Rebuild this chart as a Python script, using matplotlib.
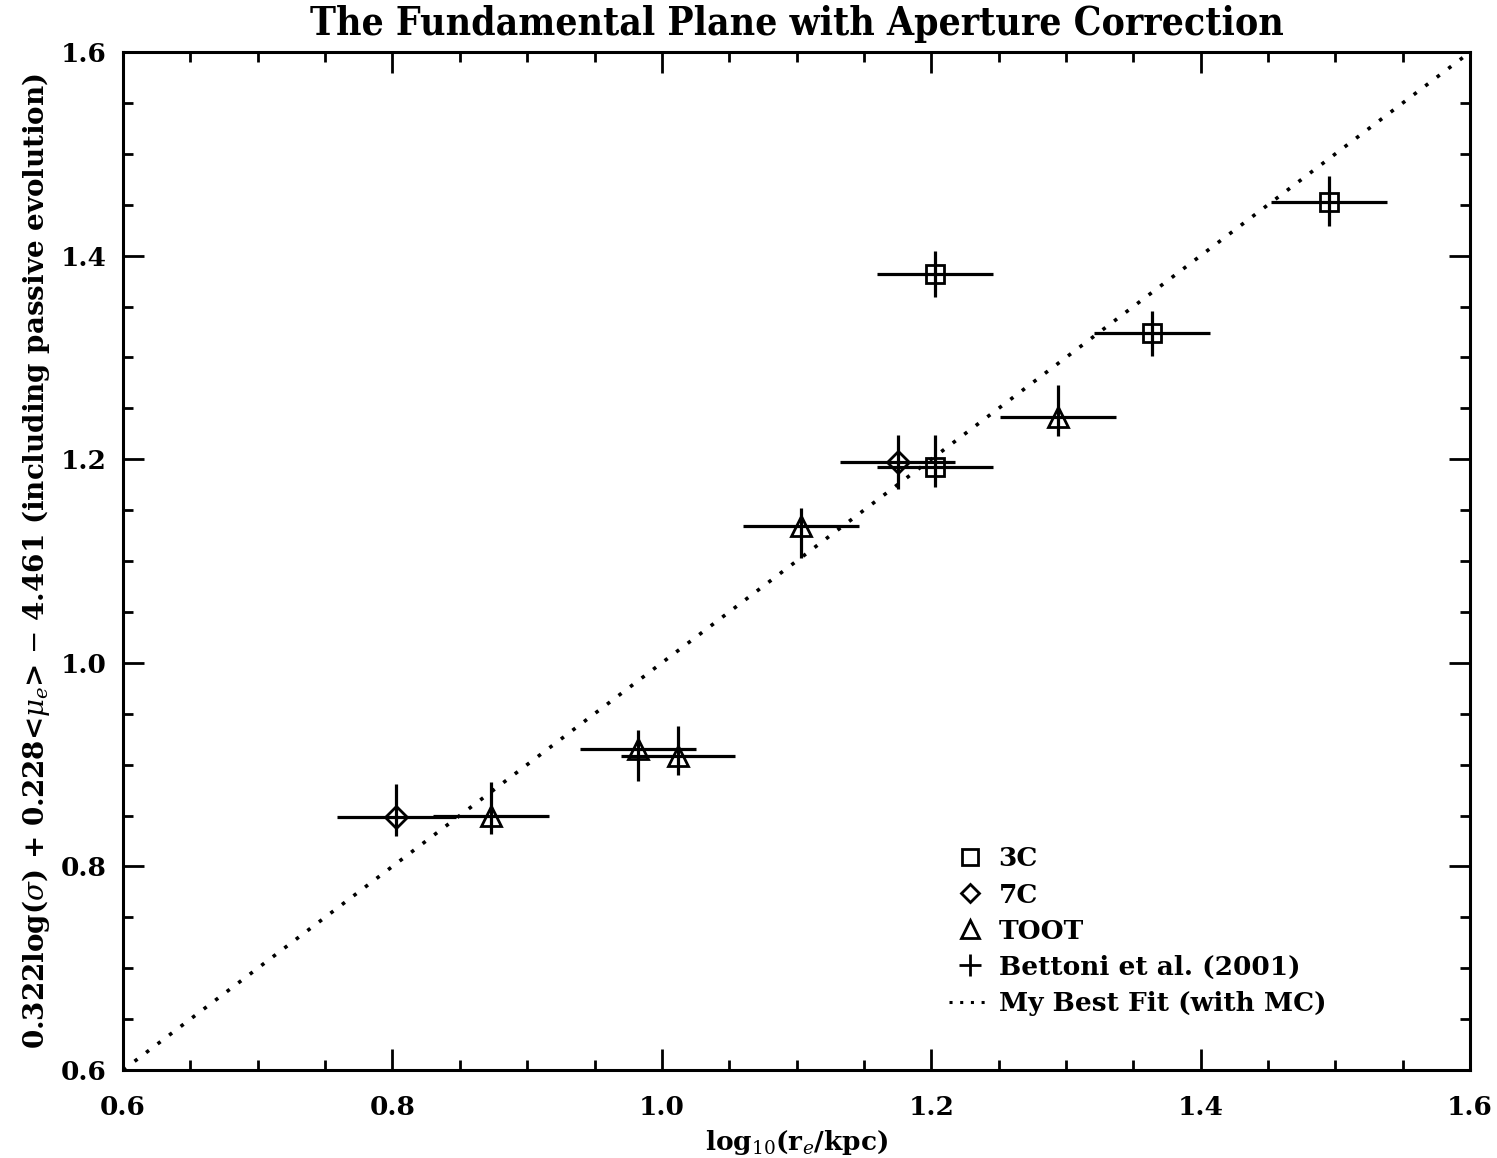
import matplotlib
matplotlib.use("Agg")
import matplotlib.pyplot as plt
from matplotlib.lines import Line2D
from matplotlib.ticker import MultipleLocator

# 3C radio galaxies
x_3c = [1.203, 1.203, 1.364, 1.495]
y_3c = [1.382, 1.192, 1.324, 1.453]
xerr_3c = [0.043, 0.043, 0.043, 0.043]
yerr_lo_3c = [0.023, 0.019, 0.023, 0.024]
yerr_hi_3c = [0.023, 0.032, 0.022, 0.025]

# 7C radio galaxies
x_7c = [0.803, 1.175]
y_7c = [0.849, 1.197]
xerr_7c = [0.044, 0.043]
yerr_lo_7c = [0.019, 0.026]
yerr_hi_7c = [0.032, 0.027]

# TOOT radio galaxies
x_toot = [0.873, 0.982, 1.012, 1.103, 1.294]
y_toot = [0.850, 0.915, 0.908, 1.134, 1.242]
xerr_toot = [0.043, 0.043, 0.042, 0.043, 0.043]
yerr_lo_toot = [0.018, 0.031, 0.018, 0.031, 0.019]
yerr_hi_toot = [0.033, 0.019, 0.030, 0.018, 0.031]

# Bettoni et al. (2001) - none inside plotted range
x_bet = []
y_bet = []

# best fit line
fit_x = [0.6, 1.6]
fit_y = [0.6, 1.6]

plt.rcParams['font.family'] = ['DejaVu Serif']
plt.rcParams['mathtext.fontset'] = 'dejavuserif'

fig = plt.figure(figsize=(14.97, 11.58), dpi=100)
ax = fig.add_axes([0.0822, 0.076, 0.8998, 0.879])

lw = 2.3
common = dict(ls='none', color='black', mfc='none', mec='black', mew=2.0,
              elinewidth=lw, capsize=0, ms=13)

ax.plot(fit_x, fit_y, ls=(0, (1, 3)), color='black', lw=2.6)

ax.errorbar(x_3c, y_3c, xerr=xerr_3c, yerr=[yerr_lo_3c, yerr_hi_3c],
            marker='s', **common)
ax.errorbar(x_7c, y_7c, xerr=xerr_7c, yerr=[yerr_lo_7c, yerr_hi_7c],
            marker='D', **dict(common, ms=11))
ax.errorbar(x_toot, y_toot, xerr=xerr_toot, yerr=[yerr_lo_toot, yerr_hi_toot],
            marker='^', **dict(common, ms=15))
ax.plot(x_bet, y_bet, ls='none', marker='+', color='black')

ax.set_xlim(0.6, 1.6)
ax.set_ylim(0.6, 1.6)
ax.xaxis.set_major_locator(MultipleLocator(0.2))
ax.xaxis.set_minor_locator(MultipleLocator(0.05))
ax.yaxis.set_major_locator(MultipleLocator(0.2))
ax.yaxis.set_minor_locator(MultipleLocator(0.05))
ax.tick_params(which='both', direction='in', top=True, right=True, width=2)
ax.tick_params(which='major', length=15, labelsize=19, pad=12)
ax.tick_params(axis='x', which='major', pad=18)
ax.tick_params(which='minor', length=7)
ax.xaxis.set_major_formatter(matplotlib.ticker.FormatStrFormatter('%.1f'))
ax.yaxis.set_major_formatter(matplotlib.ticker.FormatStrFormatter('%.1f'))
for lab in ax.get_xticklabels() + ax.get_yticklabels():
    lab.set_fontweight('bold')
for s in ax.spines.values():
    s.set_linewidth(2.2)

ax.set_title('The Fundamental Plane with Aperture Correction',
             fontsize=28, fontweight='bold', fontstretch='condensed', pad=12)
ax.set_xlabel(r'log$_{10}$(r$_e$/kpc)', fontsize=19, fontweight='bold', labelpad=6)
ax.set_ylabel(r'0.322log($\sigma$) + 0.228<$\mu_e$> $-$ 4.461 (including passive evolution)',
              fontsize=20, fontweight='bold', labelpad=6)

handles = [
    Line2D([], [], ls='none', marker='s', ms=12, mfc='none', mec='black', mew=2),
    Line2D([], [], ls='none', marker='D', ms=9, mfc='none', mec='black', mew=2),
    Line2D([], [], ls='none', marker='^', ms=13, mfc='none', mec='black', mew=2),
    Line2D([], [], ls='none', marker='+', ms=16, color='black', mew=2),
    Line2D([], [], ls=(0, (1, 2.5)), color='black', lw=2.2),
]
labels = ['3C', '7C', 'TOOT', 'Bettoni et al. (2001)', 'My Best Fit (with MC)']
leg = ax.legend(handles, labels, loc='upper left', bbox_to_anchor=(0.605, 0.23),
                frameon=False, fontsize=19, labelspacing=0.42, handlelength=1.6,
                handletextpad=0.3, borderaxespad=0)
for t in leg.get_texts():
    t.set_fontweight('bold')

fig.savefig('out.png', dpi=100)
